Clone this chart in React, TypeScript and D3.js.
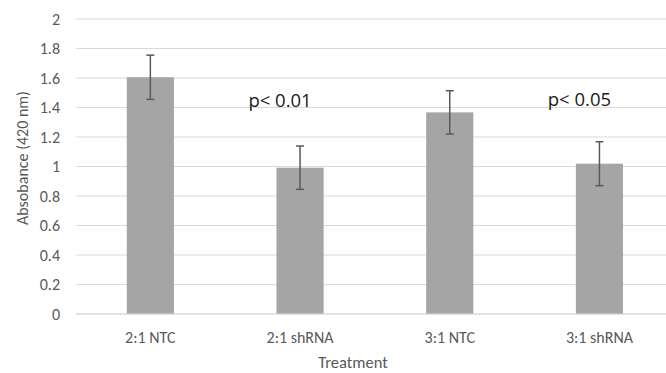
import React from "react";
import * as d3 from "d3";

const categories = ["2:1 NTC", "2:1 shRNA", "3:1 NTC", "3:1 shRNA"];
const values = [1.605, 0.992, 1.367, 1.019];
const errors = [0.15, 0.147, 0.147, 0.149];
const yTicks = [0, 0.2, 0.4, 0.6, 0.8, 1, 1.2, 1.4, 1.6, 1.8, 2];
const annotations = [
  { text: "p< 0.01", bar: 1, value: 1.401 },
  { text: "p< 0.05", bar: 3, value: 1.408 },
];

const W = 666;
const H = 373;
const FONT = "Carlito, Calibri, 'Open Sans', sans-serif";
const ANNOT_FONT = "'Open Sans', 'Segoe UI', sans-serif";

export default function App() {
  const x = d3.scaleBand<string>().domain(categories).range([75.5, 674.3]).paddingInner(0.685).paddingOuter(0.3425);
  const y = d3.scaleLinear().domain([0, 2]).range([314, 19]);
  const bw = x.bandwidth();
  const cx = (i: number) => (x(categories[i]) as number) + bw / 2;

  return (
    <svg width={W} height={H} style={{ position: "absolute", left: 0, top: 0, background: "#fff" }} fontFamily={FONT}>
      {yTicks.map((t) => (
        <g key={t}>
          <line x1={76} x2={W} y1={y(t)} y2={y(t)} stroke="#d9d9d9" strokeWidth={1} />
          <text x={60} y={y(t)} dy="0.35em" textAnchor="end" fontSize={16} fill="#595959">
            {d3.format("~g")(t)}
          </text>
        </g>
      ))}
      {categories.map((c, i) => (
        <g key={c}>
          <rect x={x(c)} y={y(values[i])} width={bw} height={y(0) - y(values[i])} fill="#a5a5a5" />
          <line x1={cx(i)} x2={cx(i)} y1={y(values[i] + errors[i])} y2={y(values[i] - errors[i])} stroke="#595959" strokeWidth={1.5} />
          <line x1={cx(i) - 4} x2={cx(i) + 4} y1={y(values[i] + errors[i])} y2={y(values[i] + errors[i])} stroke="#595959" strokeWidth={1.5} />
          <line x1={cx(i) - 4} x2={cx(i) + 4} y1={y(values[i] - errors[i])} y2={y(values[i] - errors[i])} stroke="#595959" strokeWidth={1.5} />
          <text x={cx(i)} y={337} dy="0.35em" textAnchor="middle" fontSize={16} fill="#595959">
            {c}
          </text>
        </g>
      ))}
      {annotations.map((a) => (
        <text key={a.text} x={cx(a.bar) - 20} y={y(a.value)} textAnchor="middle" fontSize={18.5} fill="#1a1a1a" fontFamily={ANNOT_FONT}>
          {a.text}
        </text>
      ))}
      <line x1={76} x2={W} y1={y(0)} y2={y(0)} stroke="#d9d9d9" strokeWidth={1} />
      <text x={353} y={368} textAnchor="middle" fontSize={16.5} fill="#595959">
        Treatment
      </text>
      <text transform={`translate(22,158) rotate(-90)`} textAnchor="middle" dy="0.35em" fontSize={16} fill="#595959">
        Absobance (420 nm)
      </text>
    </svg>
  );
}
